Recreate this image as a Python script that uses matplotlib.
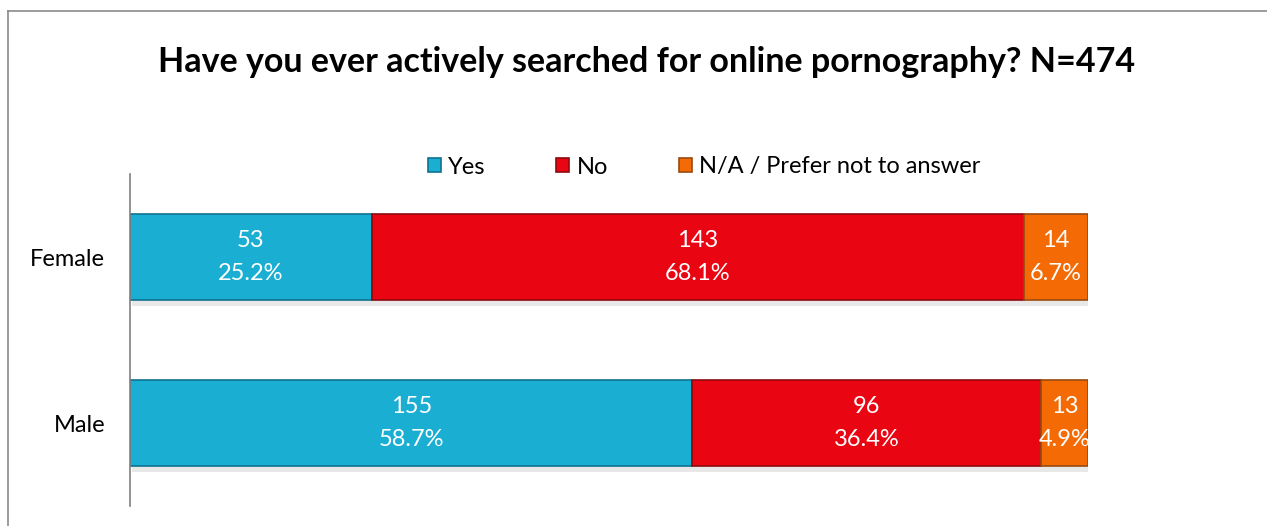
import matplotlib.pyplot as plt
import numpy as np
from matplotlib.lines import Line2D

plt.rcParams['font.family'] = ['Lato', 'DejaVu Sans']

# --- data
groups  = ["Female", "Male"]
answers = ["Yes", "No", "N/A / Prefer not to answer"]
counts  = {"Yes": [53, 155], "No": [143, 96], "N/A / Prefer not to answer": [14, 13]}
colors  = {"Yes": "#1aaed3", "No": "#ea0512", "N/A / Prefer not to answer": "#f46a05"}
edges   = {"Yes": "#0f7391", "No": "#8f0a10", "N/A / Prefer not to answer": "#9a4a10"}

totals = np.sum([counts[a] for a in answers], axis=0)

W, H = 1267, 526
fig = plt.figure(figsize=(W / 100, H / 100), dpi=100)
ax = fig.add_axes([130 / W, 1 - 506 / H, 958 / W, 332 / H])

ypos = np.arange(len(groups))
left = np.zeros(len(groups))
for a in answers:
    frac = np.array(counts[a]) / totals
    # soft shadow under each bar
    ax.barh(ypos + 0.035, frac, left=left + 0.002, height=0.52, color='0.91',
            edgecolor='none', zorder=1)
    ax.barh(ypos, frac, left=left, height=0.52, color=colors[a],
            edgecolor=edges[a], linewidth=1.2, label=a, zorder=2)
    for i, (c, f) in enumerate(zip(counts[a], frac)):
        ax.text(left[i] + f / 2, ypos[i] - 0.1, f"{c}", color='white',
                ha='center', va='center', fontsize=17, zorder=3)
        ax.text(left[i] + f / 2, ypos[i] + 0.1, f"{f * 100:.1f}%", color='white',
                ha='center', va='center', fontsize=17, zorder=3)
    left += frac

ax.set_xlim(0, 1)
ax.set_ylim(len(groups) - 0.5, -0.5)
ax.set_yticks(ypos)
ax.set_yticklabels(groups, fontsize=17)
ax.tick_params(axis='y', length=0, pad=18)
ax.set_xticks([])
for s in ['top', 'right', 'bottom']:
    ax.spines[s].set_visible(False)
ax.spines['left'].set_color('#808080')
ax.spines['left'].set_linewidth(1.2)

leg = fig.legend(loc='center', bbox_to_anchor=(704 / W, 1 - 167 / H), ncol=3,
                 frameon=False, fontsize=17, handlelength=0.55, handleheight=0.55,
                 handletextpad=0.3, columnspacing=3.0)

fig.text(647 / W, 1 - 62 / H,
         "Have you ever actively searched for online pornography? N=474",
         ha='center', va='center', fontsize=24.5, fontweight='bold')

# outer chart frame
fig.add_artist(Line2D([8 / W, 8 / W], [0, 1 - 11 / H], color='#8a8a8a', lw=1.2,
                      transform=fig.transFigure))
fig.add_artist(Line2D([8 / W, 1], [1 - 11 / H, 1 - 11 / H], color='#8a8a8a', lw=1.2,
                      transform=fig.transFigure))

fig.savefig('out.png', dpi=100)
